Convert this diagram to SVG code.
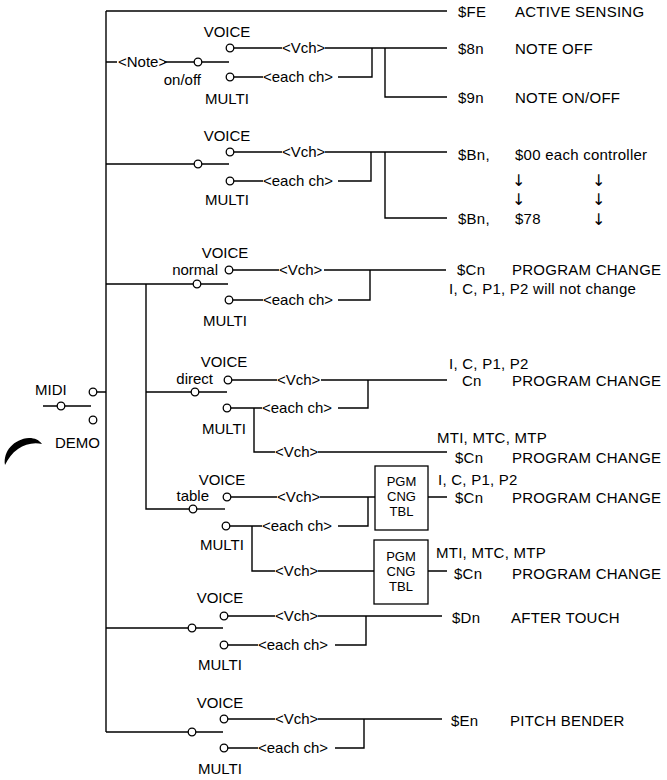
<svg xmlns="http://www.w3.org/2000/svg" width="667" height="780" viewBox="0 0 667 780">
<style>
text{font-family:"Liberation Sans",Arial,sans-serif;font-size:15px;fill:#000}
.r{letter-spacing:0.25px}
.m{text-anchor:middle}
.e{text-anchor:end}
.a{font-family:"DejaVu Sans","Liberation Sans",sans-serif;font-size:16px;fill:#000;letter-spacing:0}
.t{font-size:13px}
.l{stroke:#000;stroke-width:1.4;fill:none}
.c{stroke:#000;stroke-width:1.3;fill:#fff}
.b{stroke:#000;stroke-width:1.3;fill:#fff}
</style>
<rect width="667" height="780" fill="#fff"/>
<g id="connectors" class="l">
<path d="M106 11 V732"/>
<path d="M106 11 H447"/>
<path d="M106 62 H117 M164 62 H194.2 M201.8 62 H229"/>
<path d="M233.8 48 H282 M325 48 H447 M233.8 77 H263 M338 77 H372 V48 M385 48 V97 H447"/>
<path d="M106 164 H194.2 M201.8 164 H229"/>
<path d="M233.8 152 H282 M325 152 H447 M233.8 181 H263 M338 181 H371 V152 M385 152 V218 H447"/>
<path d="M106 284 H193.2 M200.8 284 H228 M146 284 V509 H189.2"/>
<path d="M232.8 270 H279 M324 270 H446 M232.8 300 H263 M338 300 H370 V270"/>
<path d="M146 392 H191.2 M198.8 392 H227"/>
<path d="M231.8 380 H277 M321 380 H447 M230.8 408 H262 M338 408 H368 V380 M254 408 V452 H275 M318 452 H447"/>
<path d="M196.8 509 H225"/>
<path d="M230.8 497 H277 M320 497 H375 M229.8 526 H262 M338 526 H368 V497 M252 526 V571 H275 M318 571 H374 M428 497 H447 M428 571 H447"/>
<path d="M106 628 H188.2 M195.8 628 H223"/>
<path d="M227.8 616 H275 M318 616 H442 M227.8 645 H258 M335 645 H366 V616"/>
<path d="M106 732 H188.2 M195.8 732 H223"/>
<path d="M227.8 719 H275 M318 719 H442 M227.8 748 H258 M335 748 H364 V719"/>
<path d="M96.8 392 H106 M43 406 H57.2 M64.8 406 H91"/>
</g>

<g id="midi-switch">
<circle class="c" cx="93" cy="392" r="3.8"/>
<circle class="c" cx="61" cy="406" r="3.8"/>
<circle class="c" cx="93" cy="420" r="3.8"/>
<text x="35" y="395">MIDI</text>
<text x="55" y="448">DEMO</text>
<path d="M5 465 C3 451 14 439 29 438 C35 438 39 440 42 444 C34 442 25 444 18 449 C12 453 8 459 5 465 Z" fill="#000"/>
</g>

<g id="sw-note">
<circle class="c" cx="198" cy="62" r="3.8"/>
<circle class="c" cx="230" cy="48" r="3.8"/>
<circle class="c" cx="230" cy="77" r="3.8"/>
<text x="118" y="67">&lt;Note&gt;</text>
<text class="e" x="201" y="85">on/off</text>
<text class="m" x="227" y="37">VOICE</text>
<text class="m" x="227" y="104">MULTI</text>
<text x="282" y="53">&lt;Vch&gt;</text>
<text x="263" y="82">&lt;each ch&gt;</text>
</g>

<g id="sw-ctrl">
<circle class="c" cx="198" cy="164" r="3.8"/>
<circle class="c" cx="230" cy="152" r="3.8"/>
<circle class="c" cx="230" cy="181" r="3.8"/>
<text class="m" x="227" y="141">VOICE</text>
<text class="m" x="227" y="205">MULTI</text>
<text x="282" y="157">&lt;Vch&gt;</text>
<text x="263" y="186">&lt;each ch&gt;</text>
</g>

<g id="sw-normal">
<circle class="c" cx="197" cy="284" r="3.8"/>
<circle class="c" cx="229" cy="270" r="3.8"/>
<circle class="c" cx="229" cy="300" r="3.8"/>
<text class="m" x="225" y="258">VOICE</text>
<text class="e" x="218" y="275">normal</text>
<text class="m" x="225" y="326">MULTI</text>
<text x="279" y="275">&lt;Vch&gt;</text>
<text x="263" y="305">&lt;each ch&gt;</text>
</g>

<g id="sw-direct">
<circle class="c" cx="195" cy="392" r="3.8"/>
<circle class="c" cx="228" cy="380" r="3.8"/>
<circle class="c" cx="227" cy="408" r="3.8"/>
<text class="m" x="224" y="367">VOICE</text>
<text class="e" x="213" y="384">direct</text>
<text class="m" x="224" y="434">MULTI</text>
<text x="277" y="385">&lt;Vch&gt;</text>
<text x="262" y="413">&lt;each ch&gt;</text>
<text x="275" y="457">&lt;Vch&gt;</text>
</g>

<g id="sw-table">
<circle class="c" cx="193" cy="509" r="3.8"/>
<circle class="c" cx="227" cy="497" r="3.8"/>
<circle class="c" cx="226" cy="526" r="3.8"/>
<text class="m" x="222" y="485">VOICE</text>
<text class="e" x="209" y="501">table</text>
<text class="m" x="222" y="550">MULTI</text>
<text x="277" y="502">&lt;Vch&gt;</text>
<text x="262" y="531">&lt;each ch&gt;</text>
<text x="275" y="576">&lt;Vch&gt;</text>
</g>

<g id="tbl-1">
<rect class="b" x="375" y="466" width="53" height="64"/>
<text class="m t" x="401.5" y="486">PGM</text>
<text class="m t" x="401.5" y="501">CNG</text>
<text class="m t" x="401.5" y="516">TBL</text>
</g>
<g id="tbl-2">
<rect class="b" x="374" y="540" width="54" height="64"/>
<text class="m t" x="401" y="561">PGM</text>
<text class="m t" x="401" y="576">CNG</text>
<text class="m t" x="401" y="591">TBL</text>
</g>

<g id="sw-at">
<circle class="c" cx="192" cy="628" r="3.8"/>
<circle class="c" cx="224" cy="616" r="3.8"/>
<circle class="c" cx="224" cy="645" r="3.8"/>
<text class="m" x="220" y="603">VOICE</text>
<text class="m" x="220" y="670">MULTI</text>
<text x="275" y="621">&lt;Vch&gt;</text>
<text x="258" y="650">&lt;each ch&gt;</text>
</g>

<g id="sw-pb">
<circle class="c" cx="192" cy="732" r="3.8"/>
<circle class="c" cx="224" cy="719" r="3.8"/>
<circle class="c" cx="224" cy="748" r="3.8"/>
<text class="m" x="220" y="708">VOICE</text>
<text class="m" x="220" y="774">MULTI</text>
<text x="275" y="724">&lt;Vch&gt;</text>
<text x="258" y="753">&lt;each ch&gt;</text>
</g>

<g id="out-fe" class="r">
<text x="458" y="17">$FE</text><text x="515" y="17">ACTIVE SENSING</text>
</g>
<g id="out-8n" class="r">
<text x="458" y="54">$8n</text><text x="515" y="54">NOTE OFF</text>
</g>
<g id="out-9n" class="r">
<text x="458" y="103">$9n</text><text x="515" y="103">NOTE ON/OFF</text>
</g>
<g id="out-bn" class="r">
<text x="458" y="160">$Bn,</text><text x="515" y="160">$00 each controller</text>
<text class="a" x="512" y="186">↓&#xFE0E;</text><text class="a" x="592" y="186">↓&#xFE0E;</text>
<text class="a" x="512" y="205">↓&#xFE0E;</text><text class="a" x="592" y="205">↓&#xFE0E;</text>
<text x="458" y="224">$Bn,</text><text x="515" y="224">$78</text><text class="a" x="592" y="225">↓&#xFE0E;</text>
</g>
<g id="out-cn-normal" class="r">
<text x="457" y="275">$Cn</text><text x="512" y="275">PROGRAM CHANGE</text>
<text x="449" y="294">I, C, P1, P2 will not change</text>
</g>
<g id="out-cn-direct" class="r">
<text x="449" y="369">I, C, P1, P2</text>
<text x="462" y="386">Cn</text><text x="512" y="386">PROGRAM CHANGE</text>
<text x="437" y="443">MTI, MTC, MTP</text>
<text x="455" y="463">$Cn</text><text x="512" y="463">PROGRAM CHANGE</text>
</g>
<g id="out-cn-table" class="r">
<text x="438" y="485">I, C, P1, P2</text>
<text x="455" y="503">$Cn</text><text x="512" y="503">PROGRAM CHANGE</text>
<text x="436" y="558">MTI, MTC, MTP</text>
<text x="454" y="579">$Cn</text><text x="512" y="579">PROGRAM CHANGE</text>
</g>
<g id="out-dn" class="r">
<text x="452" y="623">$Dn</text><text x="511" y="623">AFTER TOUCH</text>
</g>
<g id="out-en" class="r">
<text x="451" y="726">$En</text><text x="510" y="726">PITCH BENDER</text>
</g>
</svg>
